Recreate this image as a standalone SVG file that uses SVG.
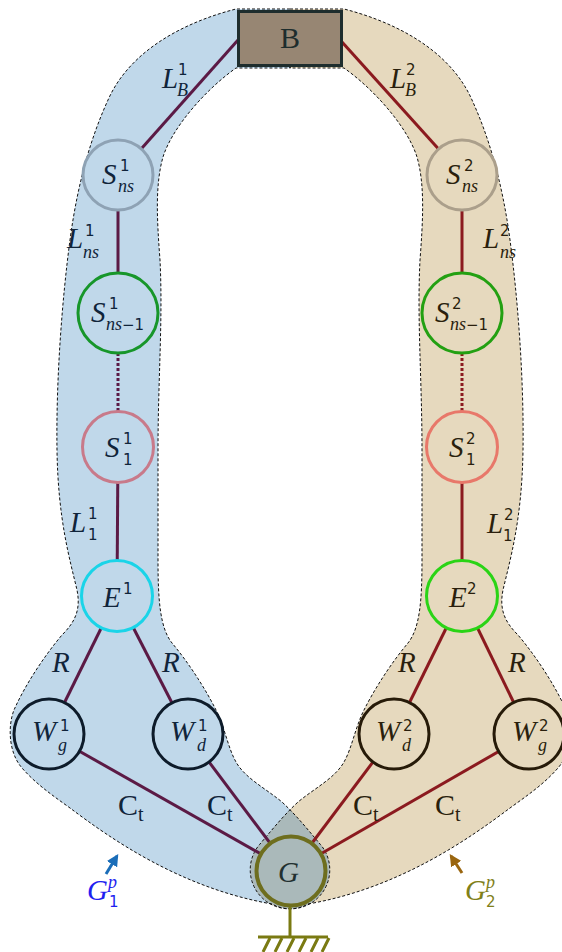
<svg xmlns="http://www.w3.org/2000/svg" xmlns:xlink="http://www.w3.org/1999/xlink" width="562" height="952" viewBox="0 0 562 952">
<style>
.m{font-family:"Liberation Serif",serif;font-style:italic;font-size:29px}
.u{font-family:"Liberation Serif",serif;font-size:30px}
.su{font-family:"Liberation Serif",serif;font-size:20px}
.d{font-family:"DejaVu Sans",sans-serif;font-size:15px}
.s{font-family:"Liberation Serif",serif;font-style:italic;font-size:18px}
.lt{fill:#10243a}
.rt{fill:#2a1f0d}
.dash{fill:none;stroke:#111;stroke-width:1;stroke-dasharray:3 2}
.el{stroke:#5b1a45;stroke-width:3;fill:none}
.er{stroke:#8b1a1f;stroke-width:3;fill:none}
.dot{stroke-dasharray:3 2}
.nl{fill:#c0d8ea;stroke-width:3}
.nr{fill:#e6d9be;stroke-width:3}
.gnd{stroke:#7a7a12;stroke-width:3;fill:none}
</style>
<defs>
<path id="band" d="M 290,9 L 236,9 C 185,22 130,50 108,100 C 92,135 78,180 70,240 C 62,300 56,380 57,450 C 58,520 70,560 77,590 C 81,610 75,622 62,635 C 45,655 25,685 14,710 C 8,725 8,752 22,768 C 36,784 52,795 70,808 C 110,838 180,888 272,904 A 39,39 0 0 0 320,844 C 308,830 298,817 282,802 C 265,788 245,778 236,762 C 228,748 225,728 216,710 C 205,688 188,662 172,643 C 160,628 158,600 158,560 L 158,450 C 158,380 163,320 160,260 C 157,220 155,185 163,157 C 172,128 205,90 236,68 L 290,68 Z"/>
<clipPath id="clipBlue"><use xlink:href="#band"/></clipPath>
<marker id="ahb" viewBox="0 0 10 10" refX="8" refY="5" markerWidth="4" markerHeight="4" orient="auto"><path d="M0,0 L10,5 L0,10 Z" fill="#1a6db8"/></marker>
<marker id="aho" viewBox="0 0 10 10" refX="8" refY="5" markerWidth="4" markerHeight="4" orient="auto"><path d="M0,0 L10,5 L0,10 Z" fill="#9a6610"/></marker>
</defs>

<g id="regions">
<use xlink:href="#band" fill="#c0d8ea"/>
<use xlink:href="#band" fill="#e6d9be" transform="matrix(-1 0 0 1 580 0)"/>
<g clip-path="url(#clipBlue)"><use xlink:href="#band" fill="#aab9ba" transform="matrix(-1 0 0 1 580 0)"/></g>
<use xlink:href="#band" class="dash"/>
<use xlink:href="#band" class="dash" transform="matrix(-1 0 0 1 580 0)"/>
</g>

<g id="connectors">
<line class="el" x1="238" y1="40" x2="118" y2="175"/>
<line class="el" x1="118" y1="175" x2="118" y2="313"/>
<line class="el dot" x1="118" y1="313" x2="118" y2="447"/>
<line class="el" x1="118" y1="447" x2="117" y2="596"/>
<line class="el" x1="117" y1="596" x2="49" y2="734"/>
<line class="el" x1="117" y1="596" x2="188" y2="734"/>
<line class="el" x1="49" y1="734" x2="291" y2="871"/>
<line class="el" x1="188" y1="734" x2="291" y2="871"/>
<line class="er" x1="342" y1="42" x2="462" y2="175"/>
<line class="er" x1="462" y1="175" x2="462" y2="313"/>
<line class="er dot" x1="462" y1="313" x2="462" y2="447"/>
<line class="er" x1="462" y1="447" x2="462" y2="596"/>
<line class="er" x1="462" y1="596" x2="394" y2="734"/>
<line class="er" x1="462" y1="596" x2="529" y2="734"/>
<line class="er" x1="394" y1="734" x2="291" y2="871"/>
<line class="er" x1="529" y1="734" x2="291" y2="871"/>
</g>

<g id="B">
<rect x="238.5" y="11.5" width="103" height="54" fill="#978673" stroke="#1e2d2d" stroke-width="3"/>
<text class="u" x="280" y="48" fill="#1e2d2d">B</text>
</g>

<g id="Sns1"><circle class="nl" cx="118" cy="175" r="35" stroke="#8ea2b4" stroke-width="3.5"/>
<text class="m lt" x="102" y="184">S</text><text class="d lt" x="120" y="171">1</text><text class="s lt" x="118" y="192">ns</text></g>
<g id="Snsm1_1"><circle class="nl" cx="118" cy="313" r="40" stroke="#17962a"/>
<text class="m lt" x="91" y="322">S</text><text class="d lt" x="109" y="309">1</text><text class="s lt" x="106" y="330">ns<tspan font-style="normal" font-family="DejaVu Sans" font-size="15">−1</tspan></text></g>
<g id="S1_1"><circle class="nl" cx="118" cy="447" r="35.5" stroke="#c87a8a"/>
<text class="m lt" x="105" y="457">S</text><text class="d lt" x="123" y="444">1</text><text class="d lt" x="123" y="465">1</text></g>
<g id="E1"><circle class="nl" cx="117" cy="596" r="35.5" stroke="#1ad4e8"/>
<text class="m lt" x="103" y="607">E</text><text class="d lt" x="123" y="594">1</text></g>
<g id="Wg1"><circle class="nl" cx="49" cy="734" r="35" stroke="#0d1b2a" stroke-width="3.5"/>
<text class="m lt" x="32" y="741">W</text><text class="d lt" x="60" y="731">1</text><text class="s lt" x="58" y="751">g</text></g>
<g id="Wd1"><circle class="nl" cx="188" cy="734" r="35" stroke="#0d1b2a" stroke-width="3.5"/>
<text class="m lt" x="170" y="741">W</text><text class="d lt" x="198" y="731">1</text><text class="s lt" x="197" y="751">d</text></g>

<g id="Sns2"><circle class="nr" cx="462" cy="175" r="35" stroke="#ab9f8b" stroke-width="3.5"/>
<text class="m rt" x="446" y="184">S</text><text class="d rt" x="464" y="171">2</text><text class="s rt" x="462" y="192">ns</text></g>
<g id="Snsm1_2"><circle class="nr" cx="462" cy="313" r="40" stroke="#23a012"/>
<text class="m rt" x="435" y="322">S</text><text class="d rt" x="452" y="309">2</text><text class="s rt" x="450" y="330">ns<tspan font-style="normal" font-family="DejaVu Sans" font-size="15">−1</tspan></text></g>
<g id="S1_2"><circle class="nr" cx="462" cy="447" r="35.5" stroke="#e8786a"/>
<text class="m rt" x="449" y="457">S</text><text class="d rt" x="466" y="444">2</text><text class="d rt" x="466" y="465">1</text></g>
<g id="E2"><circle class="nr" cx="462" cy="596" r="35.5" stroke="#2ad416"/>
<text class="m rt" x="449" y="607">E</text><text class="d rt" x="467" y="594">2</text></g>
<g id="Wd2"><circle class="nr" cx="394" cy="734" r="35" stroke="#261a08" stroke-width="3.5"/>
<text class="m rt" x="376" y="741">W</text><text class="d rt" x="403" y="731">2</text><text class="s rt" x="402" y="751">d</text></g>
<g id="Wg2"><circle class="nr" cx="529" cy="734" r="35" stroke="#261a08" stroke-width="3.5"/>
<text class="m rt" x="512" y="741">W</text><text class="d rt" x="539" y="731">2</text><text class="s rt" x="538" y="751">g</text></g>

<g id="G">
<circle cx="291" cy="871" r="34.5" fill="#aab9ba" stroke="#6e6e1e" stroke-width="4"/>
<text class="m" x="278" y="882" fill="#223030">G</text>
<line class="gnd" x1="290" y1="907" x2="290" y2="937"/>
<line class="gnd" x1="258" y1="937" x2="328" y2="937"/>
<path class="gnd" d="M270,938 l-7,14 M282,938 l-7,14 M294,938 l-7,14 M306,938 l-7,14 M318,938 l-7,14 M329,938 l-7,14"/>
</g>

<g id="edge-labels">
<text class="m lt" x="162" y="88">L</text><text class="d lt" x="178" y="75">1</text><text class="s lt" x="177" y="96">B</text>
<text class="m rt" x="390" y="88">L</text><text class="d rt" x="406" y="75">2</text><text class="s rt" x="405" y="96">B</text>
<text class="m lt" x="67" y="248">L</text><text class="d lt" x="85" y="236">1</text><text class="s lt" x="83" y="258">ns</text>
<text class="m rt" x="483" y="248">L</text><text class="d rt" x="500" y="236">2</text><text class="s rt" x="500" y="258">ns</text>
<text class="m lt" x="70" y="532">L</text><text class="d lt" x="88" y="519">1</text><text class="d lt" x="88" y="540">1</text>
<text class="m rt" x="487" y="533">L</text><text class="d rt" x="504" y="520">2</text><text class="d rt" x="503" y="541">1</text>
<text class="m lt" x="52" y="672">R</text><text class="m lt" x="162" y="672">R</text>
<text class="m rt" x="398" y="672">R</text><text class="m rt" x="508" y="672">R</text>
<text class="u lt" x="118" y="815">C</text><text class="su lt" x="138" y="821">t</text>
<text class="u lt" x="207" y="815">C</text><text class="su lt" x="227" y="821">t</text>
<text class="u rt" x="353" y="815">C</text><text class="su rt" x="373" y="821">t</text>
<text class="u rt" x="435" y="815">C</text><text class="su rt" x="455" y="821">t</text>
</g>

<g id="G1p">
<line x1="106" y1="874" x2="117" y2="856" stroke="#1a6db8" stroke-width="3" marker-end="url(#ahb)"/>
<text class="m" x="87" y="900" fill="#1f1ff0">G</text><text class="s" x="108" y="888" fill="#1f1ff0">p</text><text class="d" x="109" y="907" fill="#1f1ff0">1</text>
</g>
<g id="G2p">
<line x1="462" y1="873" x2="451" y2="856" stroke="#9a6610" stroke-width="3" marker-end="url(#aho)"/>
<text class="m" x="465" y="900" fill="#80801a">G</text><text class="s" x="486" y="888" fill="#80801a">p</text><text class="d" x="486" y="907" fill="#80801a">2</text>
</g>
</svg>
